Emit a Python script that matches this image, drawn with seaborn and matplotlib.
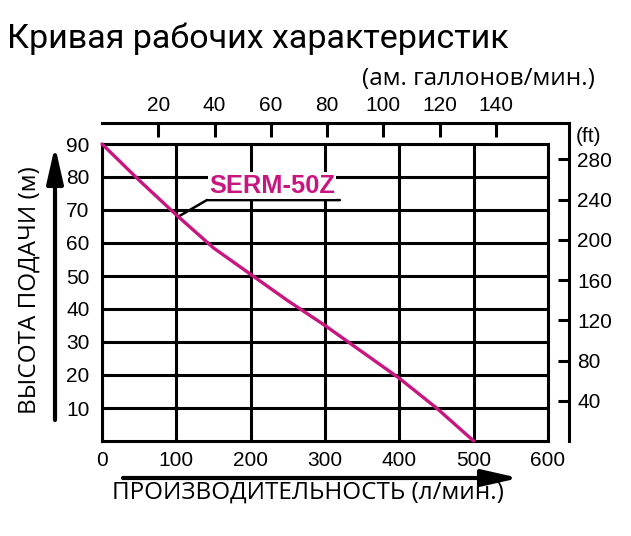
import matplotlib
matplotlib.use("Agg")
import matplotlib.pyplot as plt
import seaborn as sns

# pump curve (l/min -> head in m)
flow_lpm = [0, 50, 100, 150, 200, 250, 300, 350, 400, 450, 500]
head_m = [90, 79, 68.5, 58.5, 50.5, 42.5, 35, 27, 19, 10, 0]
x_ticks = [0, 100, 200, 300, 400, 500, 600]
y_ticks = [10, 20, 30, 40, 50, 60, 70, 80, 90]
gal_ticks = [20, 40, 60, 80, 100, 120, 140]
ft_ticks = [40, 80, 120, 160, 200, 240, 280]
model = "SERM-50Z"

LPM_PER_GAL = 3.785
FT_PER_M = 3.2808
CURVE = "#C8157F"
TEXT_FONT = ["Open Sans", "DejaVu Sans"]
TITLE_FONT = ["Roboto", "DejaVu Sans"]

sns.set_style("white")
plt.rcParams["font.family"] = ["Liberation Sans", "DejaVu Sans"]
plt.rcParams["text.color"] = "black"

W, H = 631, 536
fig = plt.figure(figsize=(W / 100, H / 100), dpi=100)


def box(x0, y0, x1, y1):
    # pixel box measured from the top-left corner
    return [x0 / W, 1 - y1 / H, (x1 - x0) / W, (y1 - y0) / H]


inner_px = (102, 144, 548, 441)
outer_px = (102, 123, 569, 441)

outer = fig.add_axes(box(*outer_px))
inner = fig.add_axes(box(*inner_px))

# outer frame: US gallons on top, feet on the right
sx = (outer_px[2] - outer_px[0]) / (inner_px[2] - inner_px[0])
sy = (outer_px[3] - outer_px[1]) / (inner_px[3] - inner_px[1])
outer.set_xlim(0, x_ticks[-1] * sx / LPM_PER_GAL)
outer.set_ylim(0, y_ticks[-1] * sy * FT_PER_M)
outer.patch.set_visible(False)
for side in ["left", "bottom"]:
    outer.spines[side].set_visible(False)
for side in ["top", "right"]:
    outer.spines[side].set_linewidth(2.2)
    outer.spines[side].set_color("black")
outer.xaxis.set_ticks_position("top")
outer.yaxis.set_ticks_position("right")
outer.set_xticks(gal_ticks)
outer.set_yticks(ft_ticks)
outer.tick_params(axis="x", direction="in", length=10, width=2.2, pad=6,
                  labelsize=15, colors="black")
outer.tick_params(axis="y", direction="in", length=8, width=2.2, pad=6,
                  labelsize=15, colors="black")
fig.text(576 / W, 1 - 137 / H, "(ft)", fontsize=15, ha="left", va="center")

# main grid in l/min and m
inner.patch.set_visible(False)
sns.lineplot(x=flow_lpm, y=head_m, color=CURVE, linewidth=2.4, ax=inner,
             clip_on=False, zorder=5)
inner.set_xlim(0, 600)
inner.set_ylim(0, 90)
inner.set_xticks(x_ticks)
inner.set_yticks(y_ticks)
inner.grid(True, color="black", linewidth=2.2)
inner.set_axisbelow(True)
for sp in inner.spines.values():
    sp.set_linewidth(2.2)
    sp.set_color("black")
inner.tick_params(length=0, labelsize=15, colors="black")
inner.tick_params(axis="x", pad=7)
inner.tick_params(axis="y", pad=9)

# model label with leader line
inner.plot([102, 141, 320], [67.9, 73, 73], color="black", linewidth=1.8,
           zorder=4)
inner.text(229, 77.4, model, color=CURVE, fontsize=18.3, fontweight="bold",
           ha="center", va="center", zorder=6,
           bbox=dict(facecolor="white", edgecolor="none", pad=1))

# axis arrows
arrow = dict(arrowstyle="-|>,head_length=1.1,head_width=0.25", color="black",
             lw=3, mutation_scale=20, shrinkA=0, shrinkB=0)
fig.add_artist(plt.Annotation("", xy=(55, H - 146), xytext=(55, H - 420),
                              xycoords="figure pixels", arrowprops=arrow))
fig.add_artist(plt.Annotation("", xy=(519, H - 478), xytext=(123, H - 478),
                              xycoords="figure pixels", arrowprops=arrow))

# texts
fig.text(7 / W, 1 - 48 / H, "Кривая рабочих характеристик", fontsize=24.5,
         family=TITLE_FONT, ha="left", va="baseline")
fig.text(595 / W, 1 - 85 / H, "(ам. галлонов/мин.)", fontsize=17.5,
         family=TEXT_FONT, ha="right", va="baseline")
fig.text(308 / W, 1 - 499 / H, "ПРОИЗВОДИТЕЛЬНОСТЬ (л/мин.)", fontsize=17.5,
         family=TEXT_FONT, ha="center", va="baseline")
fig.text(30 / W, 1 - 290 / H, "ВЫСОТА ПОДАЧИ (м)", fontsize=17.5,
         family=TEXT_FONT, rotation=90, ha="center", va="center")

fig.savefig("out.png", dpi=100)
